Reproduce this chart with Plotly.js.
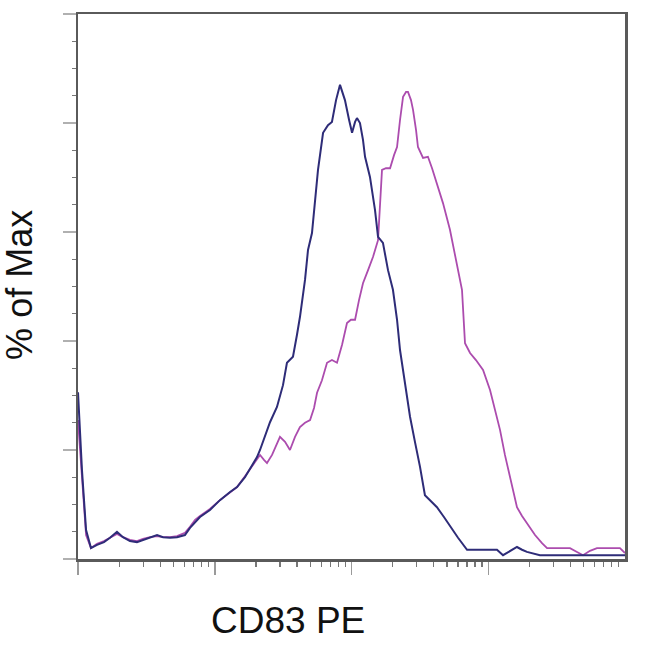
<!DOCTYPE html>
<html>
<head>
<meta charset="utf-8">
<script src="https://cdn.plot.ly/plotly-3.0.1.min.js"></script>
<style>
  html, body { margin: 0; padding: 0; background: #fff; }
  #chart { width: 650px; height: 645px; }
</style>
</head>
<body>
<div id="chart"></div>
<script>
// CD83 PE intensity, in decades (log10 of fluorescence), and % of Max
const blueLog10 = [1.000,1.029,1.059,1.095,1.139,1.190,1.234,1.285,1.329,1.380,1.431,1.475,1.527,1.578,1.622,1.673,1.724,1.782,1.819,1.856,1.892,1.965,2.038,2.112,2.163,2.221,2.272,2.309,2.331,2.367,2.404,2.455,2.499,2.528,2.572,2.601,2.623,2.660,2.682,2.711,2.733,2.755,2.792,2.828,2.857,2.887,2.916,2.952,2.982,3.004,3.026,3.040,3.062,3.084,3.099,3.135,3.172,3.194,3.230,3.267,3.303,3.333,3.355,3.391,3.428,3.464,3.501,3.537,3.581,3.625,3.676,3.720,3.779,3.845,3.940,4.064,4.108,4.159,4.210,4.247,4.283,4.378,4.576,4.817,5.000];
const bluePct = [30.6,16.3,5.3,2.0,2.6,3.1,3.9,5.0,4.0,3.3,3.1,3.5,3.9,4.4,4.0,3.9,4.0,4.4,5.7,6.8,7.7,9.0,10.8,12.3,13.2,15.0,17.0,18.7,20.0,22.4,25.1,27.9,31.9,36.0,37.1,41.1,44.4,51.2,56.7,59.8,65.9,71.4,78.2,79.6,80.2,84.2,87.0,84.2,80.6,78.2,80.2,80.9,80.0,76.9,73.8,70.1,64.0,59.1,58.0,53.0,49.4,43.9,38.3,31.9,26.1,21.5,16.9,11.7,10.5,9.5,7.7,6.0,3.9,1.7,1.7,1.7,0.7,1.5,2.2,1.7,1.3,0.7,0.7,0.7,0.7];

const magentaLog10 = [1.000,1.029,1.059,1.095,1.139,1.190,1.234,1.285,1.329,1.380,1.431,1.475,1.527,1.578,1.622,1.673,1.724,1.782,1.819,1.856,1.892,1.965,2.038,2.112,2.163,2.221,2.272,2.309,2.331,2.360,2.382,2.419,2.448,2.477,2.514,2.550,2.587,2.623,2.660,2.697,2.726,2.748,2.784,2.821,2.857,2.894,2.931,2.967,2.996,3.026,3.055,3.084,3.121,3.157,3.194,3.223,3.252,3.282,3.311,3.333,3.355,3.377,3.399,3.413,3.435,3.450,3.472,3.486,3.523,3.559,3.589,3.625,3.669,3.720,3.757,3.779,3.808,3.830,3.867,3.910,3.962,4.013,4.049,4.086,4.122,4.159,4.210,4.247,4.283,4.342,4.393,4.430,4.525,4.598,4.649,4.693,4.744,4.795,4.890,4.963,5.000];
const magentaPct = [25.5,14.5,4.4,2.0,2.8,3.3,3.9,4.6,4.0,3.5,3.3,3.7,4.0,4.2,4.0,4.0,4.2,4.8,5.9,7.2,7.9,9.2,10.8,12.3,13.2,15.2,17.0,18.5,19.1,18.2,17.6,19.1,20.9,22.4,21.5,20.0,22.4,24.2,25.0,25.5,27.7,30.5,32.8,36.0,36.5,36.0,39.3,43.3,43.9,43.9,47.5,50.6,53.0,55.4,58.5,71.4,71.7,71.7,74.1,75.6,80.6,84.8,85.7,85.7,84.2,82.4,78.7,75.6,73.6,73.8,71.7,69.0,65.3,60.4,55.8,53.6,49.4,39.6,37.8,36.5,34.7,31.0,27.3,23.7,19.1,15.0,9.5,7.9,6.6,4.4,2.9,2.0,2.0,2.0,1.3,0.7,1.5,2.0,2.0,2.0,1.1];

const yMajorTicks = [0, 20, 40, 60, 80, 100];
const xDecades = [1, 2, 3, 4];
const xMinorMultipliers = [2, 3, 4, 5, 6, 7, 8, 9];

const xMinorTicks = [];
xDecades.forEach(d => xMinorMultipliers.forEach(k => xMinorTicks.push(d + Math.log10(k))));

const traces = [
  { x: magentaLog10, y: magentaPct, type: 'scatter', mode: 'lines',
    line: { color: 'rgb(172,76,174)', width: 1.8 }, hoverinfo: 'skip' },
  { x: blueLog10, y: bluePct, type: 'scatter', mode: 'lines',
    line: { color: 'rgb(46,44,120)', width: 2 }, hoverinfo: 'skip' }
];

const layout = {
  width: 650, height: 645,
  margin: { l: 78, r: 25, t: 14, b: 86 },
  paper_bgcolor: '#fff', plot_bgcolor: '#fff',
  showlegend: false,
  xaxis: {
    type: 'linear', range: [1, 5], showgrid: false, zeroline: false,
    showline: true, linecolor: '#5a5a5a', linewidth: 2.5, mirror: true,
    tickmode: 'array', tickvals: xDecades, ticks: 'outside', ticklen: 13,
    tickcolor: '#9a9a9a', tickwidth: 1.5, showticklabels: false,
    minor: { tickmode: 'array', tickvals: xMinorTicks, ticks: 'outside',
             ticklen: 5, tickcolor: '#777', tickwidth: 1.2, showgrid: false }
  },
  yaxis: {
    range: [0, 100], showgrid: false, zeroline: false,
    showline: true, linecolor: '#5a5a5a', linewidth: 2.5, mirror: true,
    tickmode: 'array', tickvals: yMajorTicks, ticks: 'outside', ticklen: 13,
    tickcolor: '#b0b0b0', tickwidth: 1.2, showticklabels: false,
    minor: { dtick: 5, ticks: 'outside', ticklen: 4, tickcolor: '#777',
             tickwidth: 1.2, showgrid: false }
  },
  annotations: [
    { text: 'CD83 PE', xref: 'paper', yref: 'paper', x: 0.384, y: -0.112,
      xanchor: 'center', yanchor: 'middle', showarrow: false,
      font: { family: 'Liberation Sans, Arial, sans-serif', size: 37, color: '#111' } },
    { text: '% of Max', xref: 'paper', yref: 'paper', x: -0.106, y: 0.503,
      xanchor: 'center', yanchor: 'middle', showarrow: false, textangle: -90,
      font: { family: 'Liberation Sans, Arial, sans-serif', size: 36, color: '#111' } }
  ]
};

Plotly.newPlot('chart', traces, layout, { staticPlot: true, displayModeBar: false });
</script>
</body>
</html>
